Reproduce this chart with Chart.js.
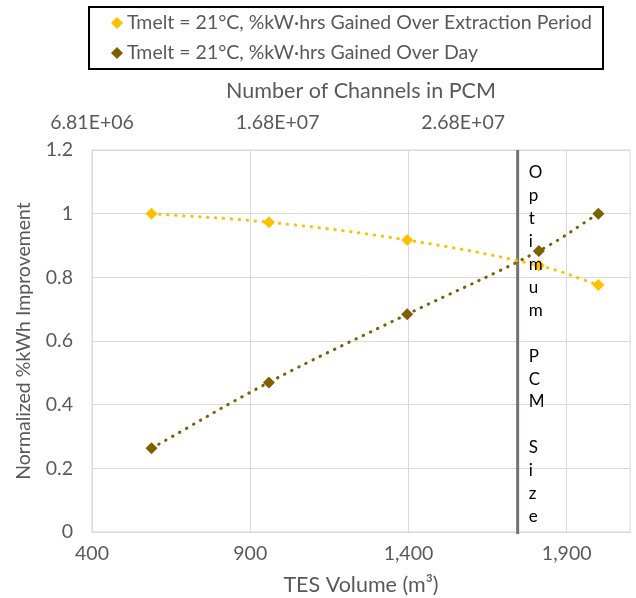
<!DOCTYPE html>
<html>
<head>
<meta charset="utf-8">
<script src="https://cdn.jsdelivr.net/npm/chart.js@4.4.1/dist/chart.umd.min.js"></script>
<style>
  html, body { margin: 0; padding: 0; background: #fff; }
  #wrap { width: 636px; height: 598px; position: relative; }
</style>
</head>
<body>
<div id="wrap"><canvas id="chart"></canvas></div>
<script>
// TES volume (m3) for each PCM configuration
const tesVolume = [588, 959, 1396, 1812, 2000];
// normalized improvement, two bases
const gainedExtraction = [1.0, 0.973, 0.917, 0.837, 0.776];
const gainedDay = [0.263, 0.470, 0.684, 0.883, 1.0];

const seriesLabels = [
  "Tmelt = 21°C, %kW·hrs Gained Over Extraction Period",
  "Tmelt = 21°C, %kW·hrs Gained Over Day"
];

const volumeTicks = [400, 900, 1400, 1900];
const channelTicks = [6.81e6, 1.681e7, 2.681e7];
const channelLabels = ["6.81E+06", "1.68E+07", "2.68E+07"];

const optimumVolume = 1745;
const optimumText = "Optimum PCM Size";

const FONT = "Lato, 'Open Sans', sans-serif";
const GREY = "#595959";

// boxed legend above the top axis
const boxLegend = {
  id: "boxLegend",
  afterDraw(chart) {
    const ctx = chart.ctx;
    ctx.save();
    ctx.strokeStyle = "#000";
    ctx.lineWidth = 2;
    ctx.strokeRect(89, 7, 514, 62);
    ctx.font = "19.5px " + FONT;
    ctx.textBaseline = "middle";
    chart.data.datasets.forEach((ds, i) => {
      const y = 23 + i * 30;
      ctx.fillStyle = ds.backgroundColor;
      ctx.beginPath();
      ctx.moveTo(117, y - 6);
      ctx.lineTo(123, y);
      ctx.lineTo(117, y + 6);
      ctx.lineTo(111, y);
      ctx.closePath();
      ctx.fill();
      ctx.fillStyle = GREY;
      ctx.fillText(ds.label, 127, y);
    });
    ctx.restore();
  }
};

// plot frame plus the optimum-size marker line
const optimumLine = {
  id: "optimumLine",
  beforeDatasetsDraw(chart) {
    const { ctx, chartArea: a } = chart;
    ctx.save();
    ctx.strokeStyle = "#d9d9d9";
    ctx.lineWidth = 1;
    ctx.strokeRect(a.left, a.top, a.right - a.left, a.bottom - a.top);
    const x = chart.scales.x.getPixelForValue(optimumVolume);
    ctx.strokeStyle = "#767171";
    ctx.lineWidth = 3;
    ctx.beginPath();
    ctx.moveTo(x, a.top);
    ctx.lineTo(x, a.bottom + 2);
    ctx.stroke();
    ctx.restore();
  },
  afterDatasetsDraw(chart) {
    const { ctx, chartArea: a } = chart;
    const x = chart.scales.x.getPixelForValue(optimumVolume);
    ctx.save();
    ctx.fillStyle = "#000";
    ctx.font = "17px " + FONT;
    ctx.textBaseline = "middle";
    ctx.textAlign = "left";
    const chars = optimumText.split("");
    chars.forEach((c, i) => {
      ctx.fillText(c, x + 11, a.top + 23 + i * 22.9);
    });
    ctx.restore();
  }
};

new Chart(document.getElementById("chart"), {
  type: "scatter",
  data: {
    datasets: [
      {
        label: seriesLabels[0],
        data: tesVolume.map((v, i) => ({ x: v, y: gainedExtraction[i] })),
        backgroundColor: "#FFC000",
        borderColor: "#FFC000",
        pointStyle: "rectRot",
        pointRadius: 6,
        pointBorderWidth: 0,
        showLine: true,
        tension: 0.4,
        borderWidth: 3,
        borderDash: [0.5, 7.5],
        borderCapStyle: "round"
      },
      {
        label: seriesLabels[1],
        data: tesVolume.map((v, i) => ({ x: v, y: gainedDay[i] })),
        backgroundColor: "#7F6000",
        borderColor: "#7F6000",
        pointStyle: "rectRot",
        pointRadius: 6,
        pointBorderWidth: 0,
        showLine: true,
        tension: 0.4,
        borderWidth: 3,
        borderDash: [0.5, 7.5],
        borderCapStyle: "round"
      }
    ]
  },
  options: {
    responsive: true,
    maintainAspectRatio: false,
    animation: false,
    layout: { padding: { top: 78, right: 5, left: 0, bottom: 0 } },
    plugins: {
      legend: { display: false },
      tooltip: { enabled: false }
    },
    scales: {
      x: {
        type: "linear",
        position: "bottom",
        min: 400,
        max: 2100,
        afterBuildTicks: (s) => { s.ticks = volumeTicks.map(v => ({ value: v })); },
        afterFit: (s) => { s.height = 66; },
        grid: { color: "#d9d9d9", drawTicks: false },
        border: { color: "#d9d9d9" },
        ticks: {
          color: GREY,
          font: { family: FONT, size: 19.5 },
          padding: 10,
          maxRotation: 0,
          callback: (v) => v.toLocaleString("en-US")
        },
        title: {
          display: true,
          text: "TES Volume (m³)",
          color: GREY,
          font: { family: FONT, size: 21.5 },
          padding: { top: -2, bottom: 0 }
        }
      },
      x2: {
        type: "linear",
        position: "top",
        min: 6.81e6,
        max: 3.58e7,
        afterBuildTicks: (s) => { s.ticks = channelTicks.map(v => ({ value: v })); },
        afterFit: (s) => { s.height = 72; },
        grid: { display: false, drawTicks: false },
        border: { display: false },
        ticks: {
          color: GREY,
          font: { family: FONT, size: 19.5 },
          padding: 16,
          maxRotation: 0,
          callback: (v, i) => channelLabels[i]
        },
        title: {
          display: true,
          text: "Number of Channels in PCM",
          color: GREY,
          font: { family: FONT, size: 21.5 },
          padding: { top: 0, bottom: 7 }
        }
      },
      y: {
        min: 0,
        max: 1.2,
        afterFit: (s) => { s.width = 92; },
        grid: { color: "#d9d9d9", drawTicks: false },
        border: { color: "#d9d9d9" },
        ticks: {
          stepSize: 0.2,
          color: GREY,
          font: { family: FONT, size: 19.5 },
          padding: 19,
          callback: (v) => String(Number(v.toFixed(1)))
        },
        title: {
          display: true,
          text: "Normalized %kWh Improvement",
          color: GREY,
          font: { family: FONT, size: 19.5 },
          padding: { top: 12, bottom: 0 }
        }
      }
    }
  },
  plugins: [boxLegend, optimumLine]
});
</script>
</body>
</html>
